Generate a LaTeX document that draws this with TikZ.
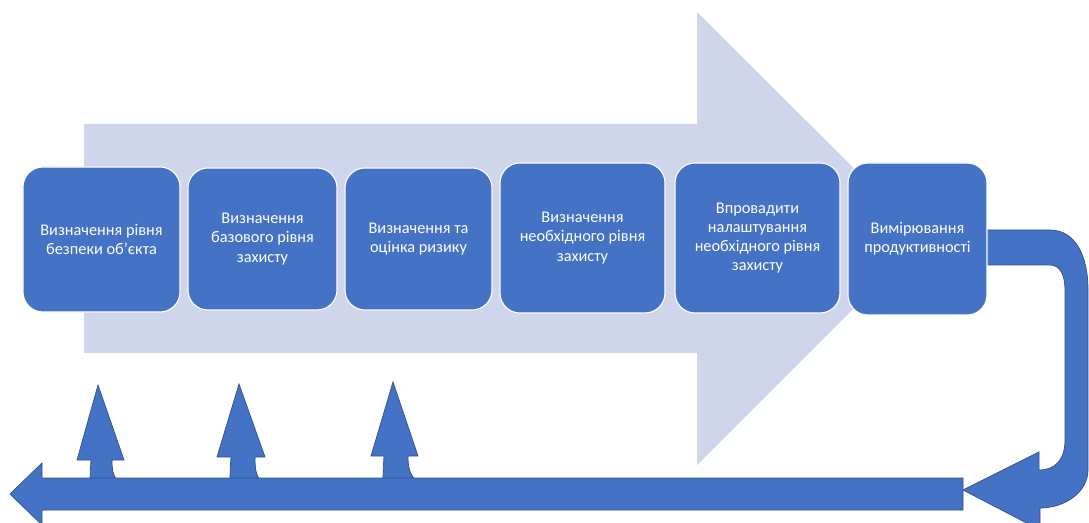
\documentclass[tikz,border=0pt]{standalone}
\usepackage{fontspec}
\setmainfont{Carlito}
\definecolor{boxblue}{HTML}{4472C4}
\definecolor{arrowpale}{HTML}{CFD5EA}
\definecolor{edgeblue}{HTML}{2F528F}
\tikzset{
  stepbox/.style={draw=white, line width=0.8pt, fill=boxblue, rounded corners=0.5cm,
    text=white, align=center, font=\fontsize{11.6}{13.6}\selectfont},
  blockarrow/.style={fill=boxblue, draw=edgeblue, line width=0.5pt}
}
\begin{document}
\begin{tikzpicture}[x=0.025cm,y=-0.025cm]
\useasboundingbox (0,0) rectangle (1089,523);
\clip (0,0) rectangle (1089,523);
% pale arrow behind the steps
\fill[arrowpale] (84,124) -- (697,124) -- (697,12) -- (924,238) -- (697,465) -- (697,353) -- (84,353) -- cycle;
% return arrow on the right
\draw[blockarrow] (987,230) -- (1050,230) .. controls (1075,230) and (1088,255) .. (1088,290) -- (1088,470)
  .. controls (1088,492) and (1065,508) .. (1040,508) -- (1040,530) -- (963,490) -- (1039,452) -- (1039,470)
  .. controls (1055,470) and (1065,460) .. (1065,440) -- (1065,290) .. controls (1065,275) and (1060,265) .. (1050,265)
  -- (987,265) -- cycle;
% feedback arrows
\draw[blockarrow] (90,494) .. controls (90,475) .. (91,460) -- (77,460) -- (98,385) -- (124,460) -- (112,460)
  .. controls (112,470) and (113,475) .. (117,480) -- (117,494) -- cycle;
\draw[blockarrow] (230,494) .. controls (230,472) .. (231,457) -- (217,457) -- (239,384) -- (265,457) -- (255,457)
  .. controls (255,469) and (256,475) .. (260,480) -- (260,494) -- cycle;
\draw[blockarrow] (383,494) .. controls (383,472) .. (384,456) -- (371,456) -- (393,382) -- (418,456) -- (408,456)
  .. controls (408,468) and (410,475) .. (416,480) -- (416,494) -- cycle;
\draw[blockarrow] (963,478) -- (42,478) -- (42,463) -- (10,494) -- (42,525) -- (42,510) -- (963,510) -- cycle;
% steps
\node[stepbox, minimum width=3.925cm, minimum height=3.625cm] (s1) at (101.5,239.5) {Визначення рівня\\безпеки об'єкта};
\node[stepbox, minimum width=3.725cm, minimum height=3.55cm] (s2) at (262.5,239) {Визначення\\базового рівня\\захисту};
\node[stepbox, minimum width=3.675cm, minimum height=3.55cm] (s3) at (418.5,239) {Визначення та\\оцінка ризику};
\node[stepbox, minimum width=4.125cm, minimum height=3.75cm] (s4) at (582.5,238) {Визначення\\необхідного рівня\\захисту};
\node[stepbox, minimum width=4.125cm, minimum height=3.75cm] (s5) at (757.5,238) {Впровадити\\налаштування\\необхідного рівня\\захисту};
\node[stepbox, minimum width=3.475cm, minimum height=3.8cm] (s6) at (917.5,239) {Вимірювання\\продуктивності};
\end{tikzpicture}
\end{document}
